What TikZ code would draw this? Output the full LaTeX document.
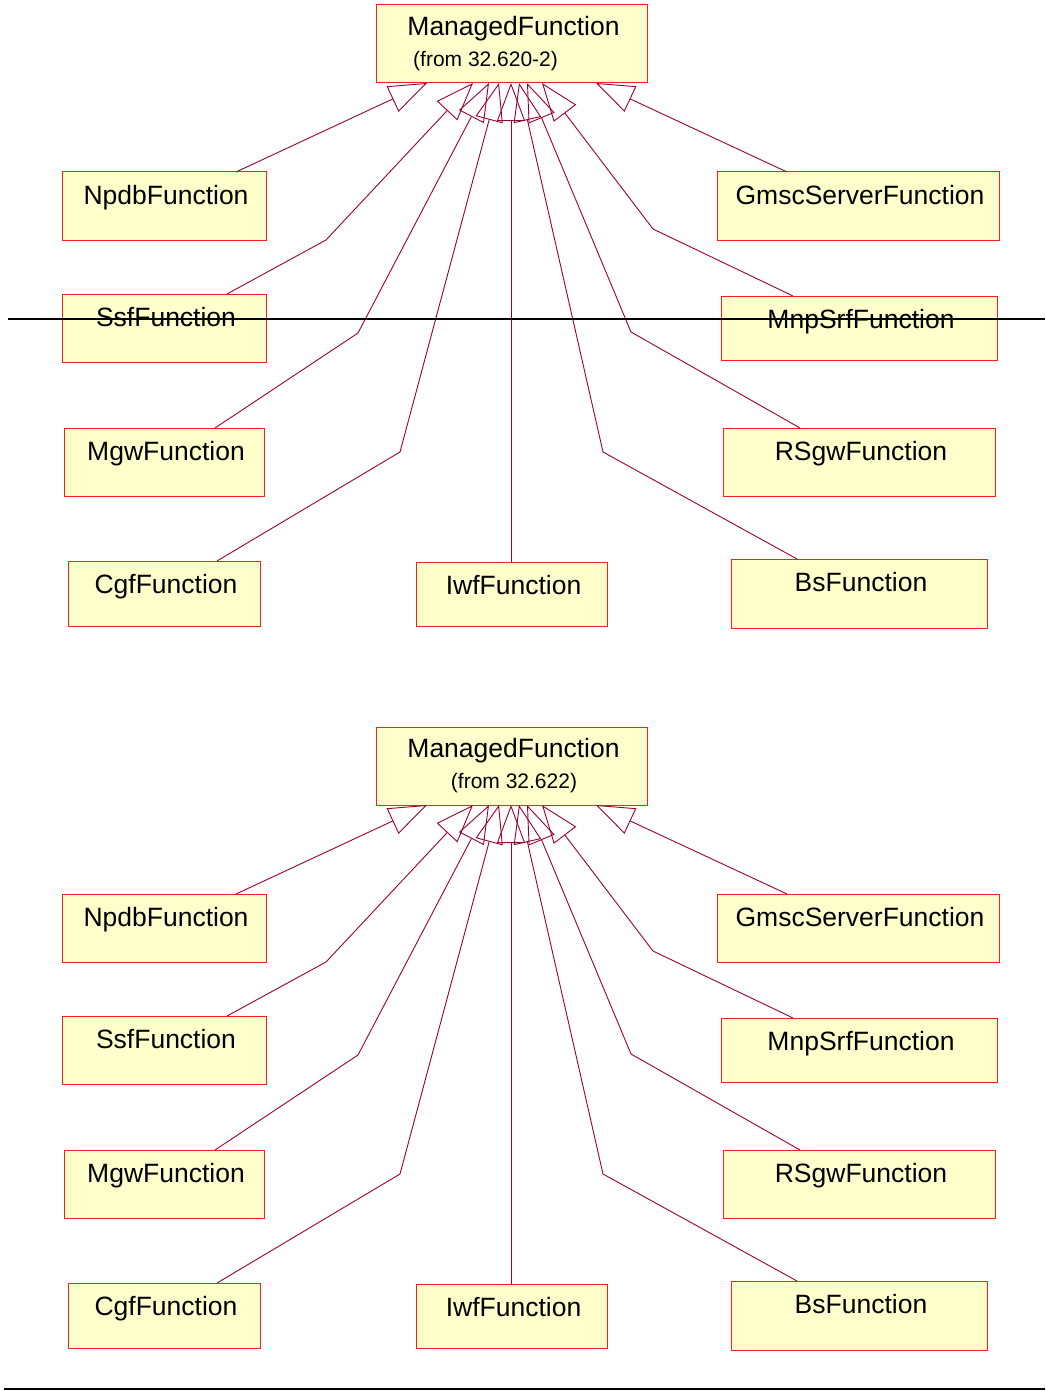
\documentclass[tikz,border=0pt]{standalone}
\usepackage{fontspec}
\setmainfont{Liberation Sans}
\usetikzlibrary{arrows.meta,calc}

\definecolor{classfill}{RGB}{255,255,204}
\definecolor{classedge}{RGB}{250,30,30}
\definecolor{linkred}{RGB}{153,0,51}

\tikzset{
  classbox/.style={draw=classedge, fill=classfill, line width=1pt,
    inner sep=0pt, outer sep=0pt, anchor=north west,
    font=\fontsize{26.5}{30}\selectfont, text height=32.5},
  sourcenote/.style={inner sep=0pt, font=\fontsize{21}{25}\selectfont},
  link/.style={draw=linkred, line width=0.9pt, line join=miter,
    -{Triangle[open,length=38pt,width=28pt]}},
  rule/.style={draw=black, line width=1.8pt}
}

% class box: [extra options]{name}{x1}{y1}{x2}{y2}, label taken from \classlabel
\newcommand\classbox[6][]{%
  \node[classbox, minimum width={(#5)-(#3)}, minimum height={(#6)-(#4)},
        text depth={(#6)-(#4)-32.5}, #1] (#2) at (#3,#4) {\hspace*{4pt}\classlabel};%
}

% one generalisation tree: {suffix}{y offset}{note x}{note anchor}{note text}
\newcommand\hierarchy[5]{%
  \def\classlabel{ManagedFunction}%
  \classbox[text height=30.5, text depth={78-30.5}]{mf#1}{376}{5+#2}{647}{83+#2}
  \node[sourcenote, anchor=#4] (src#1) at (#3,66.5+#2) {#5};
  \def\classlabel{NpdbFunction}%
  \classbox{npdb#1}{62}{172+#2}{266}{240+#2}
  \def\classlabel{SsfFunction}%
  \classbox{ssf#1}{62}{294+#2}{266}{362+#2}
  \def\classlabel{MgwFunction}%
  \classbox{mgw#1}{64}{428+#2}{264}{496+#2}
  \def\classlabel{CgfFunction}%
  \classbox{cgf#1}{68}{561+#2}{260}{626+#2}
  \def\classlabel{IwfFunction}%
  \classbox{iwf#1}{416}{562+#2}{607}{626+#2}
  \def\classlabel{BsFunction}%
  \classbox{bs#1}{731}{559+#2}{987}{628+#2}
  \def\classlabel{RSgwFunction}%
  \classbox{rsgw#1}{723}{428+#2}{995}{496+#2}
  \def\classlabel{MnpSrfFunction}%
  \classbox{mnp#1}{721}{296+#2}{997}{360+#2}
  \def\classlabel{GmscServerFunction}%
  \classbox{gmsc#1}{717}{172+#2}{999}{240+#2}
  % generalisation connectors
  \draw[link] ($(npdb#1.north west)+(174,0)$) -- ($(mf#1.south west)+(51,0)$);
  \draw[link] ($(ssf#1.north west)+(165,0)$) -- (326,240+#2) -- ($(mf#1.south west)+(97,0)$);
  \draw[link] ($(mgw#1.north west)+(151,0)$) -- (358,333+#2) -- ($(mf#1.south west)+(113,0)$);
  \draw[link] ($(cgf#1.north west)+(149,0)$) -- (400,452+#2) -- ($(mf#1.south west)+(123,0)$);
  \draw[link] ($(iwf#1.north west)+(95,0)$) -- ($(mf#1.south west)+(135,0)$);
  \draw[link] ($(bs#1.north west)+(66,0)$) -- (603,452+#2) -- ($(mf#1.south west)+(143,0)$);
  \draw[link] ($(rsgw#1.north west)+(77,0)$) -- (631,332+#2) -- ($(mf#1.south west)+(151,0)$);
  \draw[link] ($(mnp#1.north west)+(72,0)$) -- (653,229+#2) -- ($(mf#1.south west)+(166,0)$);
  \draw[link] ($(gmsc#1.north west)+(70,0)$) -- ($(mf#1.south west)+(220,0)$);
}

\begin{document}
\begin{tikzpicture}[x=1pt,y=-1pt]
  \useasboundingbox (0,0) rectangle (1045,1391);
  \hierarchy{a}{0}{413}{base west}{(from 32.620-2)}
  \hierarchy{b}{722}{514}{base}{(from 32.622)}
  % horizontal rules
  \draw[rule] (8,319) -- (1045,319);
  \draw[rule] (4,1389) -- (1045,1389);
\end{tikzpicture}
\end{document}
